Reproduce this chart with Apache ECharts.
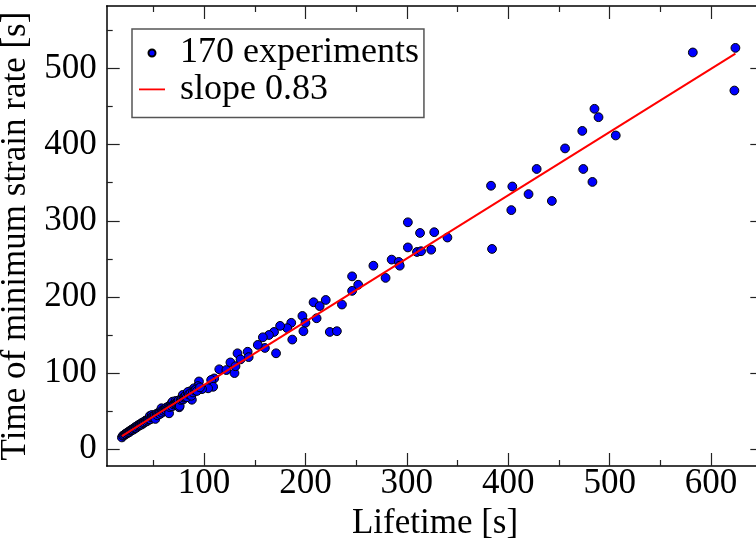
<!DOCTYPE html>
<html><head><meta charset="utf-8">
<script src="https://cdn.jsdelivr.net/npm/echarts@6/dist/echarts.min.js"></script>
<style>html,body{margin:0;padding:0;background:#fff}#c{width:756px;height:539px}</style>
</head><body><div id="c"></div>
<script>
// Lifetime [s] of each experiment
const lifetime = [
  582, 624, 623, 485, 489, 473, 506, 456, 428, 474, 483, 383, 404, 420, 443, 403, 384,
  301, 313, 327, 340, 301, 310, 314, 324, 285, 292, 293, 267, 279, 246, 252, 246, 236,
  220, 208, 214, 211, 224, 231, 197, 200, 198, 186, 182, 187, 175, 169, 164, 158, 160,
  153, 171, 143, 144, 133, 136, 126, 130, 131, 115, 122, 110, 107, 109, 104, 95, 98,
  94, 90, 88, 86,
  19, 20, 21, 22, 22.5, 23, 24, 24.5, 25, 26, 26.5, 27, 28, 28.5, 29, 30, 30.5, 31, 32,
  32.5, 33, 34, 34.5, 35, 36, 36.5, 37, 38, 38.5, 39, 40, 40.5, 41, 42, 42.5, 43, 44,
  44.5, 45, 46, 46.5, 47, 48, 48.5, 49, 50, 51, 51.5, 52, 53, 53.5, 54, 55, 56, 56.5,
  57, 58, 58.5, 59, 60, 61, 62, 62.5, 63, 64, 65, 65.5, 66, 67, 68, 68.5, 69, 70, 71,
  72, 72.5, 73, 74, 75, 75.5, 76, 77, 78, 79, 79.5, 80, 81, 82, 83, 84, 85, 86.5, 87.5,
  89, 91, 92, 93, 96
];
// Time of minimum strain rate [s] of each experiment
const minRateTime = [
  521, 527, 471, 447, 436, 418, 412, 395, 368, 368, 351, 346, 345, 335, 326, 314, 263,
  298, 284, 285, 278, 265, 259, 260, 262, 249, 246, 241, 241, 225, 227, 216, 208, 190,
  196, 193, 188, 172, 154, 155, 175, 166, 155, 166, 159, 144, 162, 154, 150, 147, 133,
  137, 126, 128, 121, 126, 118, 114, 100, 109, 105, 104, 93, 91, 82, 80, 89, 79,
  83, 80, 65, 76,
  15.5, 17.8, 18.2, 19.6, 20.1, 19.9, 21.5, 21.0, 22.4, 23.1, 22.6, 24.3, 24.9, 25.6,
  25.2, 26.9, 25.8, 27.6, 28.3, 29.4, 28.1, 30.2, 29.7, 31.5, 31.1, 32.6, 31.9, 33.8,
  32.4, 34.9, 34.1, 35.8, 35.2, 36.9, 37.8, 36.4, 38.6, 37.5, 39.4, 40.1, 43.7, 39.2,
  41.8, 45.0, 42.3, 43.6, 42.4, 44.9, 39.8, 45.7, 46.8, 44.5, 47.3, 48.6, 46.2, 49.5,
  53.8, 48.1, 51.2, 50.4, 52.6, 53.1, 51.3, 54.9, 53.7, 56.2, 47.2, 55.4, 57.9, 60.4,
  56.3, 62.5, 58.8, 60.1, 63.4, 59.7, 61.8, 62.9, 64.3, 55.1, 56.8, 64.7, 66.2, 71.3,
  65.4, 67.8, 68.9, 70.6, 68.3, 75.2, 71.9, 73.4, 70.2, 74.6, 77.1, 78.4, 76.5, 81.2
];
// fitted line, slope 0.83
const fitLifetime = [19, 624];
const fitTime = [17.3, 519.4];

const xMajorTicks = [100, 200, 300, 400, 500, 600];
const xMinorTicks = [50, 150, 250, 350, 450, 550, 650];
const yMajorTicks = [0, 100, 200, 300, 400, 500];
const yMinorTicks = [50, 150, 250, 350, 450, 550];

const FONT = 'Liberation Serif';
const X_MIN = 4, X_MAX = 651.5, Y_MIN = -22, Y_MAX = 582;

const points = lifetime.map((x, i) => [x, minRateTime[i]]);
const fitLine = fitLifetime.map((x, i) => [x, fitTime[i]]);

function mkAxis(pos, min, max, ticks, len, showLine, labels, extra) {
  return Object.assign({
    type: 'value', position: pos, min: min, max: max, gridIndex: 0,
    axisLine: { show: showLine, onZero: false, lineStyle: { color: '#000', width: 1.5 } },
    axisTick: { show: true, inside: true, length: len, customValues: ticks,
      lineStyle: { color: '#222', width: 1.2 } },
    axisLabel: labels ? Object.assign({ customValues: ticks, fontFamily: FONT, fontSize: 35, color: '#000' }, labels)
                      : { show: false },
    splitLine: { show: false },
    minorTick: { show: false }
  }, extra || {});
}

const chart = echarts.init(document.getElementById('c'), null, { renderer: 'canvas' });
chart.setOption({
  animation: false,
  backgroundColor: '#fff',
  grid: { left: 106.7, top: 6, right: -7.3, bottom: 73, containLabel: false, outerBoundsMode: 'none' },
  xAxis: [
    mkAxis('bottom', X_MIN, X_MAX, xMajorTicks, 13, true, { margin: 0 }, {
      name: 'Lifetime [s]', nameLocation: 'middle', nameGap: 31,
      nameTextStyle: { fontFamily: FONT, fontSize: 35, color: '#000' }
    }),
    mkAxis('bottom', X_MIN, X_MAX, xMinorTicks, 6, false, null),
    mkAxis('top', X_MIN, X_MAX, xMajorTicks, 13, true, null),
    mkAxis('top', X_MIN, X_MAX, xMinorTicks, 6, false, null)
  ],
  yAxis: [
    mkAxis('left', Y_MIN, Y_MAX, yMajorTicks, 13, true, { margin: 10 }, {
      name: 'Time of minimum strain rate [s]', nameLocation: 'middle', nameGap: 70, nameRotate: 90,
      nameTextStyle: { fontFamily: FONT, fontSize: 35, color: '#000' }
    }),
    mkAxis('left', Y_MIN, Y_MAX, yMinorTicks, 6, false, null),
    mkAxis('right', Y_MIN, Y_MAX, yMajorTicks, 13, true, null),
    mkAxis('right', Y_MIN, Y_MAX, yMinorTicks, 6, false, null)
  ],
  legend: {
    orient: 'vertical', left: 132, top: 29,
    padding: [6, 5, 10, 7], itemGap: 0.4, itemWidth: 26, itemHeight: 7,
    borderColor: '#555', borderWidth: 1.5, backgroundColor: '#fff', borderRadius: 0,
    textStyle: { fontFamily: FONT, fontSize: 36, color: '#000', lineHeight: 34, padding: [0, 0, 0, 10] },
    data: [
      { name: '170 experiments', icon: 'circle' },
      { name: 'slope 0.83', icon: 'path://M0,0L26,0L26,1.8L0,1.8Z', symbolKeepAspect: true,
        itemStyle: { color: '#ff0000', borderWidth: 0 } }
    ]
  },
  series: [
    {
      name: '170 experiments', type: 'scatter', xAxisIndex: 0, yAxisIndex: 0,
      data: points, symbol: 'circle', symbolSize: 8.8, z: 2,
      itemStyle: { color: '#0000ff', borderColor: '#000', borderWidth: 1, opacity: 1 },
      emphasis: { disabled: true }
    },
    {
      name: 'slope 0.83', type: 'line', xAxisIndex: 0, yAxisIndex: 0,
      data: fitLine, symbol: 'none', showSymbol: false, z: 3,
      lineStyle: { color: '#ff0000', width: 2 },
      itemStyle: { color: '#ff0000' },
      emphasis: { disabled: true }
    }
  ]
});
</script>
</body></html>
